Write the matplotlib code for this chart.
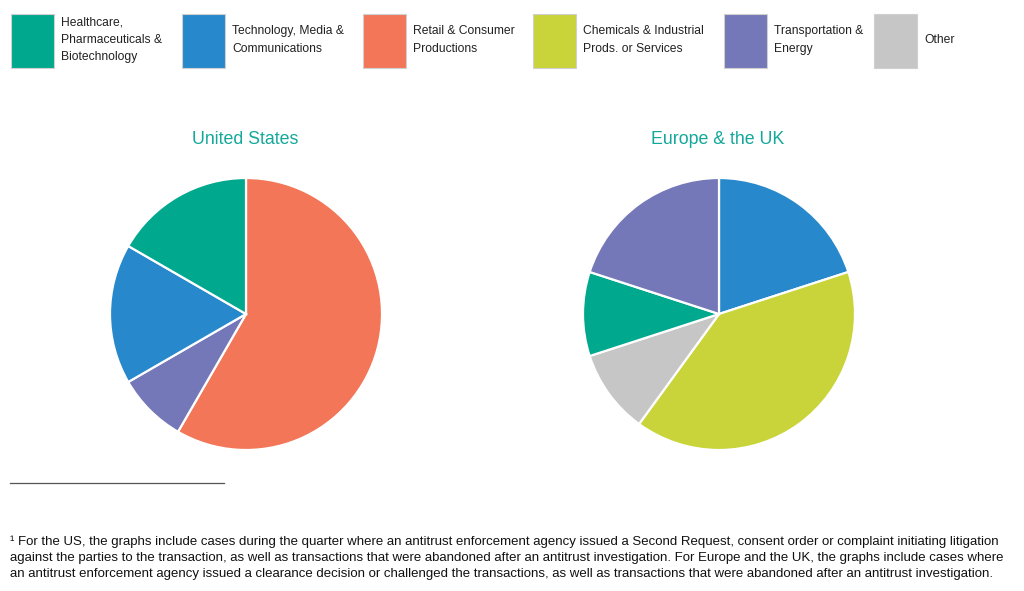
import matplotlib
matplotlib.use("Agg")
import matplotlib.pyplot as plt
from matplotlib.patches import Rectangle
from matplotlib.lines import Line2D

plt.rcParams['font.family'] = ['Liberation Sans', 'DejaVu Sans']

# Legend categories
legend_labels = ["Healthcare,\nPharmaceuticals &\nBiotechnology",
                 "Technology, Media &\nCommunications",
                 "Retail & Consumer\nProductions",
                 "Chemicals & Industrial\nProds. or Services",
                 "Transportation &\nEnergy",
                 "Other"]
legend_colors = ["#00A88E", "#2788CC", "#F27657", "#C9D43A", "#7477B8", "#C6C6C6"]

# United States (clockwise from top)
us_cats = ["Retail", "Transportation", "Technology", "Healthcare"]
us_vals = [7, 1, 2, 2]
us_colors = ["#F27657", "#7477B8", "#2788CC", "#00A88E"]

# Europe & the UK (clockwise from top)
eu_cats = ["Technology", "Chemicals", "Other", "Healthcare", "Transportation"]
eu_vals = [2, 4, 1, 1, 2]
eu_colors = ["#2788CC", "#C9D43A", "#C6C6C6", "#00A88E", "#7477B8"]

W, H = 1024, 591
fig = plt.figure(figsize=(W / 100, H / 100), dpi=100)
fig.patch.set_facecolor("white")

def fx(px):
    return px / W

def fy(py):
    return 1 - py / H

# Legend
box_x = [11, 182, 363, 533, 724, 874]
for x, lab, col in zip(box_x, legend_labels, legend_colors):
    fig.patches.append(Rectangle((fx(x), fy(68)), fx(43), 54 / H, transform=fig.transFigure,
                                 facecolor=col, edgecolor="#D0D0D0", linewidth=0.8))
    fig.text(fx(x + 50), fy(40), lab, fontsize=8.7, color="#222222", va="center", ha="left",
             linespacing=1.6)

def draw_pie(cx, cy, r, vals, colors, title):
    half = r * 1.1
    ax = fig.add_axes([fx(cx - half), fy(cy + half), 2 * half / W, 2 * half / H])
    ax.pie(vals, colors=colors, startangle=90, counterclock=False, radius=1,
           wedgeprops=dict(edgecolor="white", linewidth=1.6))
    ax.set_xlim(-1.1, 1.1)
    ax.set_ylim(-1.1, 1.1)
    ax.set_aspect("equal")
    fig.text(fx(cx - 1), fy(139), title, fontsize=12.8, color="#13A89A", ha="center", va="center")

draw_pie(246, 314, 136, us_vals, us_colors, "United States")
draw_pie(719, 314, 136, eu_vals, eu_colors, "Europe & the UK")

# Footnote rule
fig.lines.append(Line2D([fx(10), fx(224)], [fy(483), fy(483)], transform=fig.transFigure,
                        color="#555555", linewidth=0.9))

foot = ("\u00b9 For the US, the graphs include cases during the quarter where an antitrust enforcement agency issued a Second Request, consent order or complaint initiating litigation\n"
        "against the parties to the transaction, as well as transactions that were abandoned after an antitrust investigation. For Europe and the UK, the graphs include cases where\n"
        "an antitrust enforcement agency issued a clearance decision or challenged the transactions, as well as transactions that were abandoned after an antitrust investigation.")
fig.text(fx(10), fy(558), foot, fontsize=9.58, color="#111111", ha="left", va="center", linespacing=1.45)

fig.savefig("out.png", dpi=100, facecolor="white")
